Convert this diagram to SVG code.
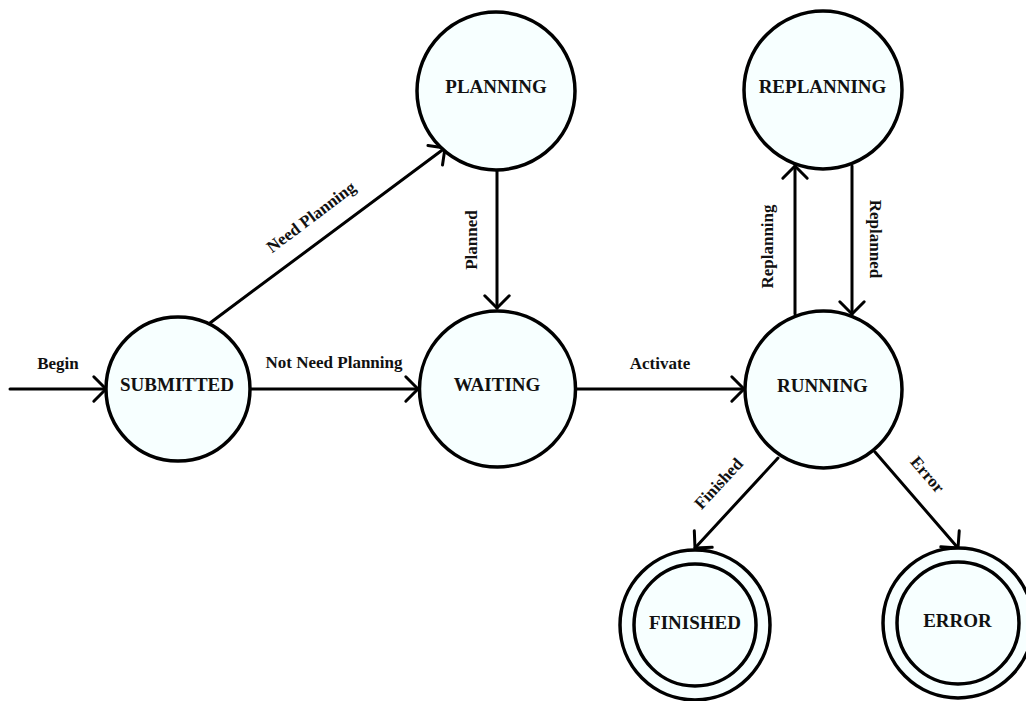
<svg xmlns="http://www.w3.org/2000/svg" width="1026" height="701" viewBox="0 0 1026 701">
  <defs>
    <marker id="chev" markerUnits="userSpaceOnUse" markerWidth="30" markerHeight="30" viewBox="-16 -16 32 32" refX="0" refY="0" orient="auto" overflow="visible">
      <path d="M -13 -13 L 0 0 L -13 13" fill="none" stroke="#000" stroke-width="3.2" stroke-linecap="round" stroke-linejoin="round"/>
    </marker>
  </defs>
  <style>
    .state { fill: #f7ffff; stroke: #000; stroke-width: 3.5; }
    .ring { fill: none; stroke: #000; stroke-width: 3.5; }
    .name { font-family: "Liberation Serif", "Times New Roman", serif; font-weight: bold; font-size: 19px; text-anchor: middle; fill: #111; }
    .edge { fill: none; stroke: #000; stroke-width: 3; stroke-linecap: round; marker-end: url(#chev); }
    .lbl { font-family: "Liberation Serif", "Times New Roman", serif; font-weight: bold; font-size: 17px; text-anchor: middle; fill: #111; }
  </style>
  <rect width="1026" height="701" fill="#fff"/>

  <g id="connectors">
    <line class="edge" x1="10" y1="389" x2="106" y2="389"/>
    <line class="edge" x1="210" y1="323" x2="445" y2="148"/>
    <line class="edge" x1="250" y1="389" x2="418" y2="389"/>
    <line class="edge" x1="497" y1="170" x2="497" y2="308"/>
    <line class="edge" x1="577" y1="389" x2="744" y2="389"/>
    <line class="edge" x1="795" y1="314" x2="795" y2="166"/>
    <line class="edge" x1="852" y1="166" x2="852" y2="314"/>
    <line class="edge" x1="778" y1="458" x2="695" y2="548"/>
    <line class="edge" x1="875" y1="452" x2="958" y2="548"/>

    <text class="lbl" x="58" y="369">Begin</text>
    <text class="lbl" transform="translate(311.5 217.5) rotate(-37)" y="5">Need Planning</text>
    <text class="lbl" x="334" y="368">Not Need Planning</text>
    <text class="lbl" transform="translate(472 240) rotate(-90)" y="5">Planned</text>
    <text class="lbl" x="660" y="369">Activate</text>
    <text class="lbl" transform="translate(768 246.5) rotate(-90)" y="5">Replanning</text>
    <text class="lbl" transform="translate(875 239) rotate(90)" y="5">Replanned</text>
    <text class="lbl" transform="translate(719 484) rotate(-47)" y="5">Finished</text>
    <text class="lbl" transform="translate(927 475) rotate(49.5)" y="5">Error</text>
  </g>

  <g id="submitted">
    <circle class="state" cx="178" cy="389" r="72"/>
    <text class="name" x="177" y="391">SUBMITTED</text>
  </g>
  <g id="planning">
    <circle class="state" cx="496" cy="91" r="79"/>
    <text class="name" x="496" y="93">PLANNING</text>
  </g>
  <g id="waiting">
    <circle class="state" cx="497.5" cy="389" r="78"/>
    <text class="name" x="497" y="391">WAITING</text>
  </g>
  <g id="running">
    <circle class="state" cx="823.5" cy="389.5" r="78.5"/>
    <text class="name" x="822.5" y="392">RUNNING</text>
  </g>
  <g id="replanning">
    <circle class="state" cx="823" cy="90" r="79"/>
    <text class="name" x="822.5" y="93">REPLANNING</text>
  </g>
  <g id="finished">
    <circle class="state" cx="695" cy="625" r="75"/>
    <circle class="ring" cx="695" cy="625" r="61"/>
    <text class="name" x="695" y="629">FINISHED</text>
  </g>
  <g id="error">
    <circle class="state" cx="958" cy="623" r="75"/>
    <circle class="ring" cx="958" cy="623" r="61"/>
    <text class="name" x="957.5" y="627">ERROR</text>
  </g>
</svg>
